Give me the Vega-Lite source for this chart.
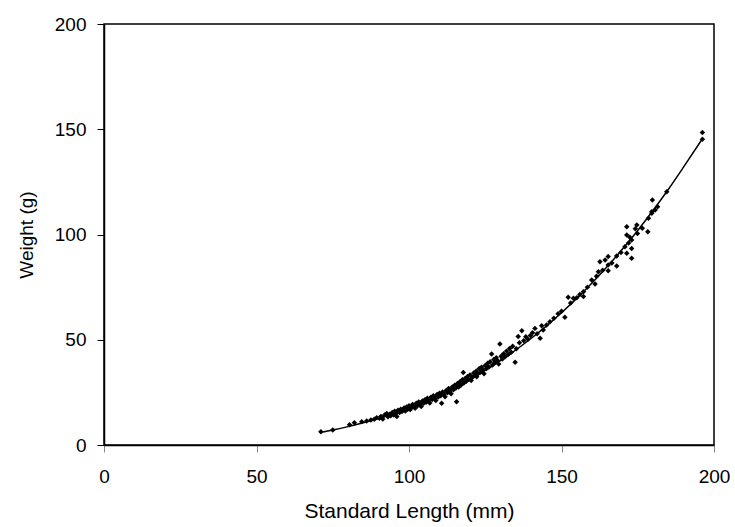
{
  "$schema": "https://vega.github.io/schema/vega-lite/v6.json",
  "width": 610,
  "height": 421,
  "autosize": {"type": "none"},
  "padding": {"left": 104, "top": 24, "right": 21, "bottom": 82},
  "background": "white",
  "config": {
    "font": "Liberation Sans",
    "view": {"stroke": "black", "strokeWidth": 1.5},
    "axis": {"grid": false, "labelFlush": false, "labelOverlap": false, "domainColor": "black", "domainWidth": 1.5, "labelColor": "black", "titleColor": "black", "labelFont": "Liberation Sans", "titleFont": "Liberation Sans", "titleFontWeight": "normal"}
  },
  "datasets": {
    "pts": [
      {"L":71.1,"W":6.3},{"L":75.0,"W":7.1},{"L":80.5,"W":9.6},{"L":82.1,"W":10.6},{"L":84.5,"W":11.1},{"L":86.1,"W":11.4},{"L":87.5,"W":11.9},{"L":88.6,"W":12.2},{"L":89.4,"W":13.0},{"L":90.3,"W":12.7},{"L":90.8,"W":13.6},{"L":91.4,"W":12.4},{"L":92.0,"W":14.3},{"L":92.7,"W":15.0},{"L":93.1,"W":13.4},{"L":93.6,"W":14.6},{"L":94.0,"W":13.9},{"L":94.5,"W":15.4},{"L":95.0,"W":14.3},{"L":95.3,"W":16.0},{"L":95.8,"W":15.1},{"L":96.0,"W":13.5},{"L":96.4,"W":16.5},{"L":96.9,"W":15.4},{"L":97.3,"W":17.0},{"L":97.7,"W":15.9},{"L":98.0,"W":16.6},{"L":98.4,"W":17.6},{"L":98.8,"W":16.2},{"L":99.2,"W":18.1},{"L":99.6,"W":17.0},{"L":100.0,"W":18.6},{"L":100.4,"W":16.8},{"L":100.8,"W":17.9},{"L":101.2,"W":19.3},{"L":101.6,"W":18.2},{"L":102.0,"W":17.4},{"L":102.4,"W":19.8},{"L":102.8,"W":18.7},{"L":103.2,"W":20.4},{"L":103.6,"W":19.2},{"L":104.0,"W":18.3},{"L":104.4,"W":20.9},{"L":104.8,"W":19.8},{"L":105.2,"W":21.5},{"L":105.6,"W":20.3},{"L":106.0,"W":22.2},{"L":106.4,"W":21.0},{"L":106.8,"W":19.9},{"L":107.2,"W":22.7},{"L":107.6,"W":21.6},{"L":108.0,"W":23.4},{"L":108.4,"W":22.1},{"L":108.8,"W":21.1},{"L":109.2,"W":24.0},{"L":109.6,"W":22.8},{"L":110.0,"W":24.6},{"L":110.4,"W":23.4},{"L":110.7,"W":19.8},{"L":111.0,"W":25.2},{"L":111.4,"W":24.0},{"L":111.8,"W":22.9},{"L":112.2,"W":25.9},{"L":112.6,"W":24.8},{"L":113.0,"W":26.8},{"L":113.4,"W":25.5},{"L":113.8,"W":24.4},{"L":114.2,"W":27.5},{"L":114.6,"W":26.3},{"L":115.0,"W":28.4},{"L":115.4,"W":27.1},{"L":115.6,"W":20.6},{"L":115.9,"W":29.2},{"L":116.3,"W":27.6},{"L":116.7,"W":30.0},{"L":117.1,"W":28.5},{"L":117.5,"W":31.0},{"L":117.8,"W":34.4},{"L":118.0,"W":29.4},{"L":118.4,"W":31.6},{"L":118.8,"W":30.3},{"L":119.2,"W":32.5},{"L":119.6,"W":31.1},{"L":120.0,"W":33.3},{"L":120.4,"W":30.6},{"L":120.8,"W":32.2},{"L":121.2,"W":34.2},{"L":121.6,"W":33.0},{"L":122.0,"W":35.0},{"L":122.2,"W":32.4},{"L":122.6,"W":33.8},{"L":123.0,"W":36.2},{"L":123.4,"W":34.5},{"L":123.8,"W":37.0},{"L":124.2,"W":35.6},{"L":124.6,"W":33.9},{"L":125.0,"W":37.8},{"L":125.4,"W":36.3},{"L":125.8,"W":38.8},{"L":126.2,"W":37.1},{"L":126.6,"W":39.6},{"L":127.1,"W":43.2},{"L":127.4,"W":38.0},{"L":127.8,"W":40.6},{"L":128.2,"W":39.2},{"L":128.6,"W":41.5},{"L":129.0,"W":40.1},{"L":129.4,"W":38.5},{"L":129.8,"W":48.0},{"L":130.2,"W":42.2},{"L":130.6,"W":40.8},{"L":131.0,"W":43.4},{"L":131.5,"W":41.9},{"L":132.0,"W":44.6},{"L":132.5,"W":43.0},{"L":133.0,"W":45.8},{"L":133.5,"W":44.1},{"L":134.0,"W":46.9},{"L":134.8,"W":39.3},{"L":135.2,"W":45.7},{"L":135.8,"W":51.5},{"L":136.2,"W":48.6},{"L":137.0,"W":54.3},{"L":137.6,"W":49.5},{"L":138.3,"W":51.4},{"L":139.0,"W":50.2},{"L":139.8,"W":52.0},{"L":140.5,"W":53.3},{"L":141.3,"W":55.4},{"L":142.0,"W":52.8},{"L":143.0,"W":50.7},{"L":143.5,"W":56.6},{"L":144.0,"W":54.6},{"L":145.1,"W":57.0},{"L":146.2,"W":58.6},{"L":147.5,"W":60.2},{"L":148.9,"W":62.4},{"L":150.0,"W":63.5},{"L":151.1,"W":60.7},{"L":152.2,"W":70.2},{"L":153.0,"W":67.5},{"L":153.9,"W":69.7},{"L":155.0,"W":70.0},{"L":156.0,"W":71.5},{"L":157.2,"W":70.5},{"L":157.2,"W":72.8},{"L":158.5,"W":75.0},{"L":159.9,"W":78.4},{"L":161.0,"W":76.5},{"L":161.5,"W":80.2},{"L":162.1,"W":82.3},{"L":162.6,"W":87.1},{"L":163.5,"W":83.0},{"L":164.3,"W":87.9},{"L":165.3,"W":89.5},{"L":165.3,"W":85.5},{"L":165.3,"W":82.8},{"L":166.5,"W":86.5},{"L":168.1,"W":85.0},{"L":168.1,"W":89.8},{"L":169.5,"W":91.5},{"L":170.8,"W":94.2},{"L":171.4,"W":99.8},{"L":171.4,"W":103.7},{"L":171.4,"W":91.1},{"L":172.0,"W":96.0},{"L":172.4,"W":98.7},{"L":173.0,"W":97.4},{"L":173.0,"W":93.4},{"L":173.0,"W":88.7},{"L":174.2,"W":102.7},{"L":174.7,"W":104.5},{"L":174.9,"W":100.5},{"L":176.5,"W":103.0},{"L":178.3,"W":101.3},{"L":178.5,"W":107.7},{"L":179.6,"W":110.1},{"L":179.6,"W":110.8},{"L":179.8,"W":116.4},{"L":180.7,"W":111.6},{"L":181.5,"W":113.2},{"L":184.5,"W":120.3},{"L":196.2,"W":148.5},{"L":196.2,"W":145.3}
    ],
    "fit": [
      {"L":71,"W":6.0},{"L":75,"W":7.13},{"L":80,"W":8.73},{"L":85,"W":10.56},{"L":90,"W":12.63},{"L":95,"W":14.97},{"L":100,"W":17.59},{"L":105,"W":20.5},{"L":110,"W":23.72},{"L":115,"W":27.28},{"L":120,"W":31.18},{"L":125,"W":35.44},{"L":130,"W":40.09},{"L":135,"W":45.13},{"L":140,"W":50.58},{"L":145,"W":56.48},{"L":150,"W":62.83},{"L":155,"W":69.64},{"L":160,"W":76.94},{"L":165,"W":84.75},{"L":170,"W":93.07},{"L":175,"W":101.94},{"L":180,"W":111.38},{"L":185,"W":121.37},{"L":190,"W":131.98},{"L":196.2,"W":145.5}
    ]
  },
  "layer": [
    {
      "data": {"name": "pts"},
      "mark": {"type": "point", "shape": "diamond", "filled": true, "color": "black", "size": 30, "opacity": 1},
      "encoding": {
        "x": {"field": "L", "type": "quantitative", "scale": {"domain": [0, 200], "nice": false},
          "axis": {"title": "Standard Length (mm)", "values": [0, 50, 100, 150, 200], "tickColor": "#888", "tickSize": 7, "labelFontSize": 19, "titleFontSize": 21, "labelPadding": 15, "titlePadding": 14}},
        "y": {"field": "W", "type": "quantitative", "scale": {"domain": [0, 200], "nice": false},
          "axis": {"title": "Weight (g)", "values": [0, 50, 100, 150, 200], "tickColor": "black", "tickSize": 7, "labelFontSize": 19, "titleFontSize": 19, "labelPadding": 11, "titlePadding": 18}}
      }
    },
    {
      "data": {"name": "fit"},
      "mark": {"type": "line", "color": "black", "strokeWidth": 1.5, "interpolate": "monotone"},
      "encoding": {
        "x": {"field": "L", "type": "quantitative"},
        "y": {"field": "W", "type": "quantitative"}
      }
    }
  ]
}
